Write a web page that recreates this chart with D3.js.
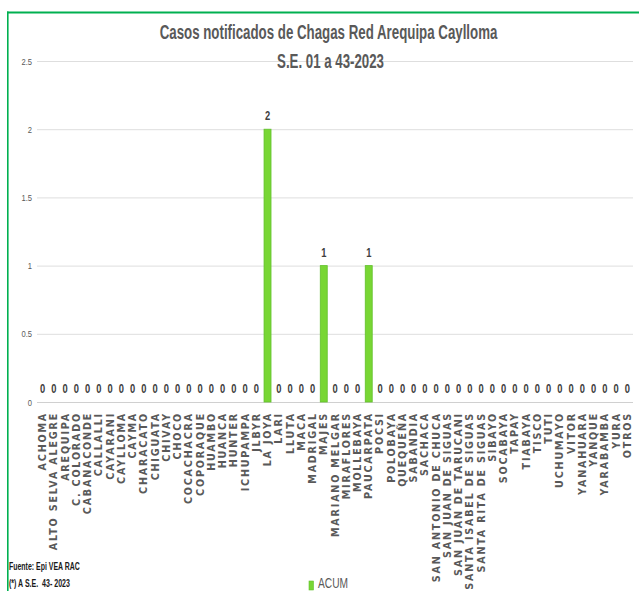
<!DOCTYPE html>
<html><head><meta charset="utf-8">
<script src="https://cdn.jsdelivr.net/npm/d3@7"></script>
<style>
html,body{margin:0;padding:0;background:#fff;overflow:hidden;}
svg{display:block;}
</style>
</head><body>
<svg id="chart" width="639" height="591"></svg>
<script>
const categories = ["ACHOMA","ALTO SELVA ALEGRE","AREQUIPA","C. COLORADO","CABANACONDE","CALLALLI","CAYARANI","CAYLLOMA","CAYMA","CHARACATO","CHIGUATA","CHIVAY","CHOCO","COCACHACRA","COPORAQUE","HUAMBO","HUANCA","HUNTER","ICHUPAMPA","JLBYR","LA JOYA","LARI","LLUTA","MACA","MADRIGAL","MAJES","MARIANO MELGAR","MIRAFLORES","MOLLEBAYA","PAUCARPATA","POCSI","POLOBAYA","QUEQUEÑA","SABANDIA","SACHACA","SAN ANTONIO DE CHUCA","SAN JUAN DE SIGUAS","SAN JUAN DE TARUCANI","SANTA ISABEL DE SIGUAS","SANTA RITA DE SIGUAS","SIBAYO","SOCABAYA","TAPAY","TIABAYA","TISCO","TUTI","UCHUMAYO","VITOR","YANAHUARA","YANQUE","YARABAMBA","YURA","OTROS"];
const acum = [0,0,0,0,0,0,0,0,0,0,0,0,0,0,0,0,0,0,0,0,2,0,0,0,0,1,0,0,0,1,0,0,0,0,0,0,0,0,0,0,0,0,0,0,0,0,0,0,0,0,0,0,0];
const yTicks = [0,0.5,1,1.5,2,2.5];
const titleLines = ["Casos notificados de Chagas Red Arequipa Caylloma","S.E. 01 a 43-2023"];
const footerLines = ["Fuente: Epi VEA RAC","(*) A S.E.  43- 2023"];
const seriesName = "ACUM";

const svg = d3.select("#chart");
const green = "#00b050";
const barFill = "#78d634";

// frame
svg.append("line").attr("x1",7).attr("x2",639).attr("y1",12.5).attr("y2",12.5).attr("stroke",green).attr("stroke-width",2.2);
svg.append("line").attr("x1",7.8).attr("x2",7.8).attr("y1",11.5).attr("y2",591).attr("stroke",green).attr("stroke-width",1.6);

const x = d3.scaleBand().domain(categories).range([37,633]).paddingInner(0.38).paddingOuter(0.19);
const y = d3.scaleLinear().domain([0,2.5]).range([402,61]);

// gridlines
svg.append("g").selectAll("line").data(yTicks).join("line")
  .attr("x1",37).attr("x2",633)
  .attr("y1",d=>y(d)+0.5).attr("y2",d=>y(d)+0.5)
  .attr("stroke",d=>d===0?"#d0d0d0":"#dedede").attr("stroke-width",1);

// y axis labels
const yAxis = d3.axisLeft(y).tickValues(yTicks).tickSize(0).tickPadding(0).tickFormat(d=>String(d));
const yg = svg.append("g").attr("transform","translate(32,0)").call(yAxis);
yg.select(".domain").remove();
yg.selectAll("text").attr("font-family","Liberation Sans Narrow, Liberation Sans, Arial").attr("font-size",9.5).attr("fill","#595959")
  .attr("transform","scale(0.8,1)").attr("x",0);

// bars
svg.append("g").selectAll("rect").data(categories).join("rect")
  .attr("x",d=>x(d)).attr("width",x.bandwidth())
  .attr("y",(d,i)=>y(acum[i])).attr("height",(d,i)=>y(0)-y(acum[i]))
  .attr("fill",barFill).attr("stroke","#62c12c").attr("stroke-width",0.8);

// data labels
svg.append("g").selectAll("text").data(categories).join("text")
  .attr("transform",(d,i)=>`translate(${x(d)+x.bandwidth()/2},${y(acum[i])-9}) scale(0.78,1)`)
  .attr("text-anchor","middle")
  .attr("font-family","Liberation Sans, Arial").attr("font-weight","bold").attr("font-size",12)
  .attr("fill","#404040")
  .text((d,i)=>acum[i]);

// x axis labels
const xAxis = d3.axisBottom(x).tickSize(0).tickPadding(0);
const xg = svg.append("g").attr("transform",`translate(0,${y(0)})`).call(xAxis);
xg.select(".domain").remove();
xg.selectAll("text")
  .attr("transform","rotate(-90)")
  .attr("text-anchor","end")
  .attr("dominant-baseline","central")
  .attr("x",-10).attr("y",0).attr("dy",null)
  .attr("font-family","DejaVu Sans, Verdana").attr("font-weight","bold").attr("font-size",9.6)
  .attr("letter-spacing",1.8)
  .attr("fill","#595959");

// title
function fitText(sel, target){
  const w = sel.node().getComputedTextLength();
  const cx = +sel.attr("data-cx"), cy = +sel.attr("data-cy");
  const s = target / w;
  sel.attr("x",0).attr("y",0).attr("transform",`translate(${cx},${cy}) scale(${s},1)`);
}
const tfont = "Liberation Sans, Arial";
const t1 = svg.append("text").attr("data-cx",328.5).attr("data-cy",39).attr("text-anchor","middle")
  .attr("font-family",tfont).attr("font-weight","bold").attr("font-size",21).attr("fill","#595959").text(titleLines[0]);
fitText(t1,338);
const t2 = svg.append("text").attr("data-cx",330.5).attr("data-cy",68).attr("text-anchor","middle")
  .attr("font-family",tfont).attr("font-weight","bold").attr("font-size",21).attr("fill","#595959").text(titleLines[1]);
fitText(t2,107);

// footer
const fw = [71,61];
footerLines.forEach((t,i)=>{
  const el = svg.append("text").attr("font-family",tfont).attr("font-weight","bold").attr("font-size",11)
    .attr("fill","#1a1a1a").attr("xml:space","preserve").style("white-space","pre").text(t);
  const w = el.node().getComputedTextLength();
  el.attr("transform",`translate(9,${570+i*16.5}) scale(${fw[i]/w},1)`);
});

// legend
svg.append("rect").attr("x",309).attr("y",581).attr("width",4.5).attr("height",9).attr("fill",barFill).attr("stroke","#62c12c").attr("stroke-width",0.6);
const lg = svg.append("text").attr("font-family",tfont).attr("font-size",14).attr("fill","#595959").text(seriesName);
const lw = lg.node().getComputedTextLength();
lg.attr("transform",`translate(318,588) scale(${30/lw},1)`);
</script>
</body></html>
